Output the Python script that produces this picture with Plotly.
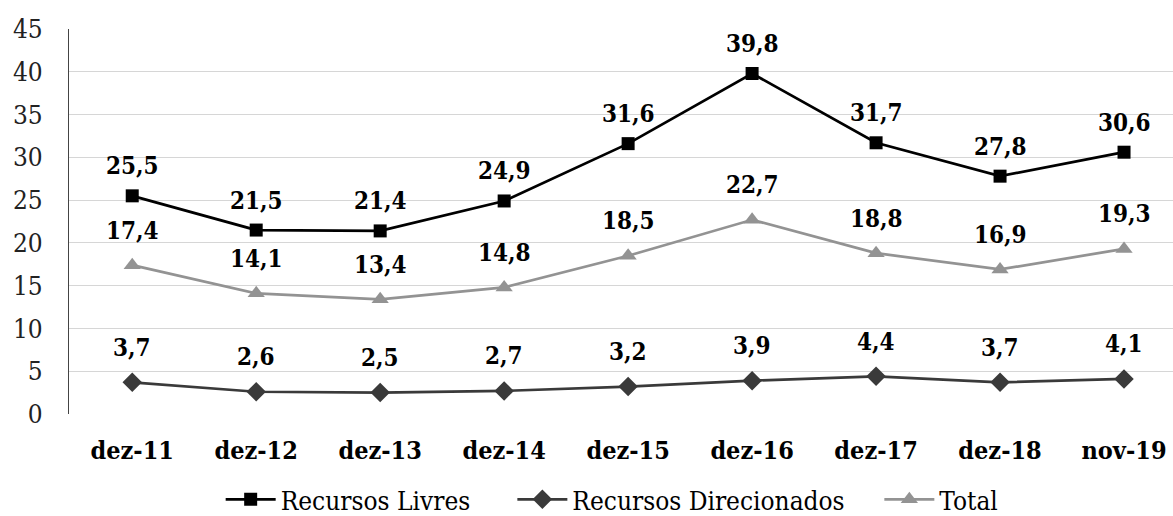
import plotly.graph_objects as go

# Categories and series values
periodos = ["dez-11", "dez-12", "dez-13", "dez-14", "dez-15", "dez-16", "dez-17", "dez-18", "nov-19"]
recursos_livres = [25.5, 21.5, 21.4, 24.9, 31.6, 39.8, 31.7, 27.8, 30.6]
recursos_direcionados = [3.7, 2.6, 2.5, 2.7, 3.2, 3.9, 4.4, 3.7, 4.1]
total = [17.4, 14.1, 13.4, 14.8, 18.5, 22.7, 18.8, 16.9, 19.3]
y_ticks = [0, 5, 10, 15, 20, 25, 30, 35, 40, 45]

FONT = "DejaVu Serif Condensed, DejaVu Serif"
NBSP = "\u00a0"

# name, values, colour, marker, marker size, label offset (px), legend padding
series = [
    ("Recursos Livres", recursos_livres, "#000000", "square", 13, 30, 5),
    ("Recursos Direcionados", recursos_direcionados, "#3a3a3a", "diamond", 15, 35, 4),
    ("Total", total, "#939393", "triangle-up", 15, 35, 0),
]

fig = go.Figure()
annotations = []
for name, vals, color, sym, msize, shift, pad in series:
    fig.add_trace(go.Scatter(
        x=list(range(len(periodos))), y=vals, name=name + NBSP * pad,
        mode="lines+markers",
        line=dict(color=color, width=2.7),
        marker=dict(symbol=sym, size=msize, color=color),
    ))
    for i, v in enumerate(vals):
        annotations.append(dict(
            x=i, y=v, xref="x", yref="y", text=f"<b>{v:.1f}</b>".replace(".", ","),
            showarrow=False, yanchor="middle", yshift=shift,
            font=dict(family=FONT, size=24, color="#000000"),
        ))

fig.update_layout(
    width=1173, height=516,
    margin=dict(l=69, r=0, t=29, b=102, autoexpand=False),
    paper_bgcolor="white", plot_bgcolor="white",
    font=dict(family=FONT, color="#000000"),
    annotations=annotations,
    showlegend=True,
    legend=dict(
        orientation="h", x=0.492, xanchor="center", y=-0.222, yanchor="middle",
        font=dict(family=FONT, size=26, color="#000000"),
        itemwidth=50, tracegroupgap=0,
    ),
    xaxis=dict(
        range=[-0.51, 8.395],
        tickmode="array", tickvals=list(range(len(periodos))),
        ticktext=[f"<b>{p}</b>" for p in periodos],
        tickfont=dict(family=FONT, size=25, color="#000000"),
        showgrid=False, zeroline=False, showline=False, ticks="",
        ticklabelstandoff=19,
    ),
    yaxis=dict(
        range=[0, 45], tickmode="array", tickvals=y_ticks,
        tickfont=dict(family=FONT, size=26, color="#222222"),
        showgrid=True, gridcolor="#d6d6d6", gridwidth=1.4,
        zeroline=False, showline=True, linecolor="#444444", linewidth=1.3,
        ticks="", ticklabelstandoff=20,
    ),
)

fig.write_html("out.html")
